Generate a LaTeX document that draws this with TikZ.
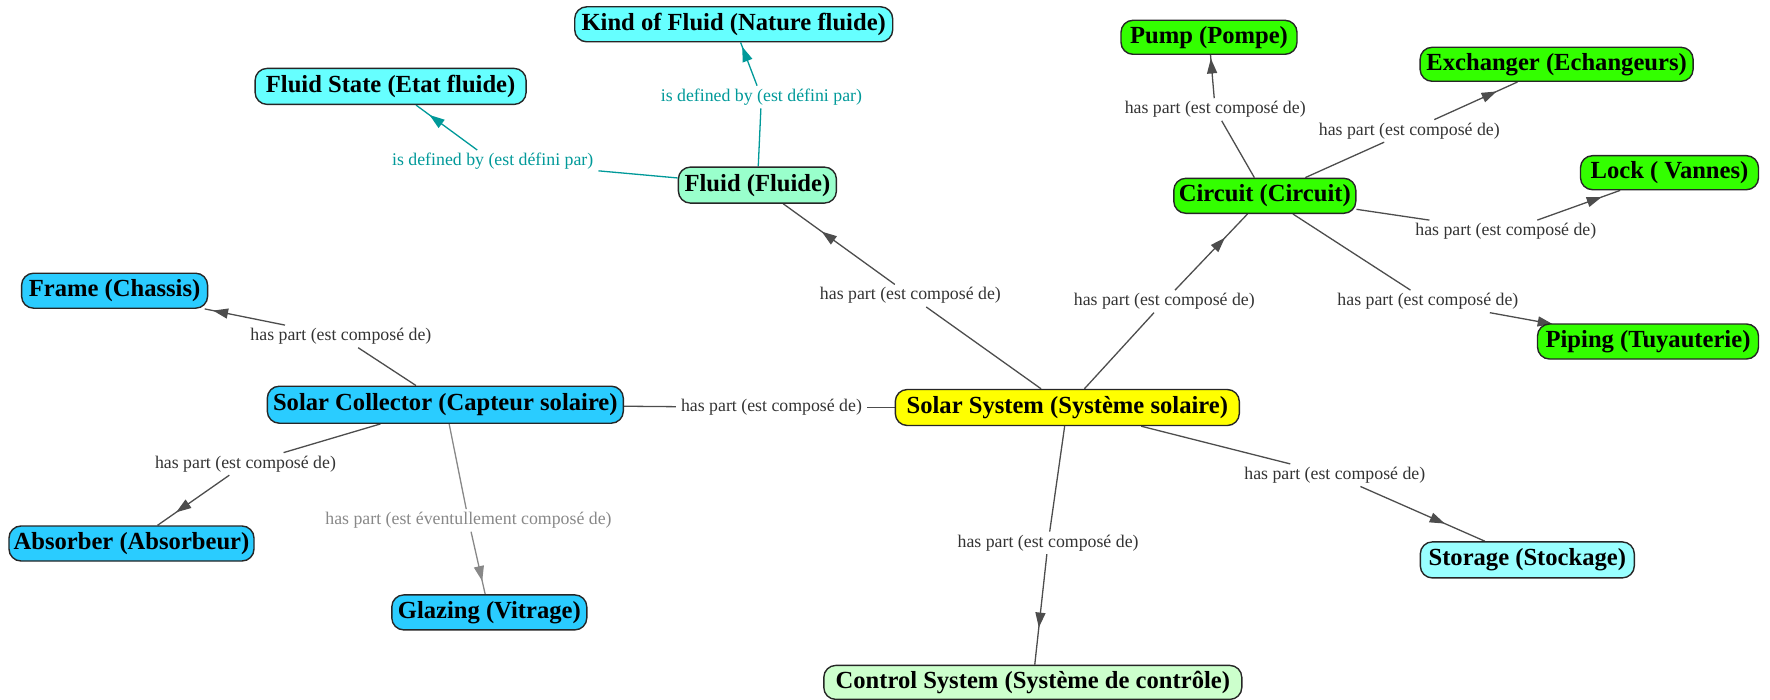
\documentclass[tikz,border=0pt]{standalone}
\usepackage{fontspec}
\setmainfont{Liberation Serif}
\usetikzlibrary{arrows.meta,calc,backgrounds}

\definecolor{fillcyan}{HTML}{66FFFF}
\definecolor{fillpale}{HTML}{99FFFF}
\definecolor{fillmint}{HTML}{99FFCC}
\definecolor{fillgreen}{HTML}{33FF00}
\definecolor{fillblue}{HTML}{2ACCFF}
\definecolor{fillyellow}{HTML}{FFFF00}
\definecolor{fillcontrol}{HTML}{CCFFCC}
\definecolor{linkgray}{HTML}{4D4D4D}
\definecolor{linkteal}{HTML}{009999}
\definecolor{linksoft}{HTML}{888888}

\tikzset{
  concept/.style={draw=black!85, line width=1.4bp, rounded corners=12bp,
    inner sep=0pt, font=\bfseries\fontsize{24.6bp}{28bp}\selectfont},
  linkname/.style={inner xsep=5bp, inner ysep=3bp, minimum height=22bp,
    font=\fontsize{17.8bp}{20bp}\selectfont},
  haspart/.style={draw=linkgray, line width=1.3bp},
  haspartlabel/.style={linkname, text=black!80},
  defined/.style={draw=linkteal, line width=1.3bp},
  definedlabel/.style={linkname, text=linkteal},
  maybepart/.style={draw=linksoft, line width=1.3bp},
  maybepartlabel/.style={linkname, text=linksoft},
  headtip/.style={-{Triangle[length=15bp,width=10bp]}}
}

% source -- label -- target, with the head halfway between label and target
\newcommand\cmaplink[4][haspart]{%
  \draw[#1] (#2) -- (#3);
  \draw[#1] (#3) -- (#4);
  \coordinate (half) at ($(#3)!0.5!(#4)$);
  \draw[#1, headtip, fill] (half) -- ($(half)!15bp!(#4)$);
}

\begin{document}
\begin{tikzpicture}[x=1bp, y=-1bp]
\useasboundingbox (0,0) rectangle (1770,700);

% concepts
\node[concept, fill=fillcyan, minimum width=318bp, minimum height=35bp] (kind) at (733.7,24.3) {Kind of Fluid (Nature fluide)};
\node[concept, fill=fillcyan, minimum width=271bp, minimum height=36bp] (state) at (390.6,86.4) {Fluid State (Etat fluide)};
\node[concept, fill=fillmint, minimum width=158bp, minimum height=36bp] (fluid) at (757.4,185.1) {Fluid (Fluide)};
\node[concept, fill=fillgreen, minimum width=176bp, minimum height=34bp] (pump) at (1209,37.3) {Pump (Pompe)};
\node[concept, fill=fillgreen, minimum width=273bp, minimum height=34bp] (exch) at (1556.6,64.3) {Exchanger (Echangeurs)};
\node[concept, fill=fillgreen, minimum width=178bp, minimum height=34bp] (lock) at (1669.5,172.7) {Lock ( Vannes)};
\node[concept, fill=fillgreen, minimum width=182bp, minimum height=35bp] (circ) at (1264.8,195.8) {Circuit (Circuit)};
\node[concept, fill=fillgreen, minimum width=221bp, minimum height=35bp] (pipe) at (1648,341.5) {Piping (Tuyauterie)};
\node[concept, fill=fillblue, minimum width=186bp, minimum height=35bp] (frame) at (114.6,290.7) {Frame (Chassis)};
\node[concept, fill=fillblue, minimum width=356bp, minimum height=37bp] (sc) at (445.3,404.7) {Solar Collector (Capteur solaire)};
\node[concept, fill=fillyellow, minimum width=344bp, minimum height=36bp] (ss) at (1067.3,407.5) {Solar System (Système solaire)};
\node[concept, fill=fillblue, minimum width=245bp, minimum height=35bp] (abs) at (131.5,543.5) {Absorber (Absorbeur)};
\node[concept, fill=fillblue, minimum width=195bp, minimum height=35bp] (glaz) at (489.3,612.4) {Glazing (Vitrage)};
\node[concept, fill=fillpale, minimum width=214bp, minimum height=36bp] (stor) at (1527.3,559.9) {Storage (Stockage)};
\node[concept, fill=fillcontrol, minimum width=418bp, minimum height=34bp] (ctrl) at (1032.8,682.4) {Control System (Système de contrôle)};

% linking phrases
\node[definedlabel] (lkind) at (761.4,97.1) {is defined by (est défini par)};
\node[definedlabel] (lstate) at (492.7,161.4) {is defined by (est défini par)};
\node[haspartlabel] (lfluid) at (910.4,295.7) {has part (est composé de)};
\node[haspartlabel] (lcirc) at (1164.3,301.4) {has part (est composé de)};
\node[haspartlabel] (lpump) at (1215.2,109.5) {has part (est composé de)};
\node[haspartlabel] (lexch) at (1409.3,130.9) {has part (est composé de)};
\node[haspartlabel] (llock) at (1505.8,231.4) {has part (est composé de)};
\node[haspartlabel] (lpipe) at (1427.9,301.4) {has part (est composé de)};
\node[haspartlabel] (lframe) at (340.9,336.4) {has part (est composé de)};
\node[haspartlabel] (lsc) at (771.5,407.5) {has part (est composé de)};
\node[haspartlabel] (labs) at (245.5,463.9) {has part (est composé de)};
\node[maybepartlabel] (lglaz) at (468.5,520.4) {has part (est éventullement composé de)};
\node[haspartlabel] (lctrl) at (1048.1,542.9) {has part (est composé de)};
\node[haspartlabel] (lstor) at (1334.8,475.2) {has part (est composé de)};

% connections
\begin{scope}[on background layer]
  \cmaplink[defined]{fluid}{lkind}{kind}
  \cmaplink[defined]{fluid}{lstate}{state}
  \cmaplink{ss}{lfluid}{fluid}
  \cmaplink{ss}{lcirc}{circ}
  \cmaplink{circ}{lpump}{pump}
  \cmaplink{circ}{lexch}{exch}
  \cmaplink{circ}{llock}{lock}
  \cmaplink{circ}{lpipe}{pipe}
  \cmaplink{sc}{lframe}{frame}
  \cmaplink{ss}{lsc}{sc}
  \cmaplink{sc}{labs}{abs}
  \cmaplink[maybepart]{sc}{lglaz}{glaz}
  \cmaplink{ss}{lctrl}{ctrl}
  \cmaplink{ss}{lstor}{stor}
\end{scope}
\end{tikzpicture}
\end{document}
